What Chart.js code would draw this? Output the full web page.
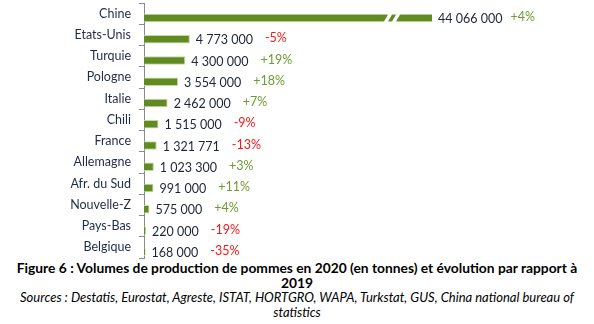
<!DOCTYPE html>
<html>
<head>
<meta charset="utf-8">
<script src="https://cdn.jsdelivr.net/npm/chart.js@4/dist/chart.umd.min.js"></script>
<style>
  body { margin: 0; background: #fff; }
  #wrap { position: relative; width: 594px; height: 260px; }
  #caption { width: 594px; text-align: center; color: #000; font-family: Lato, sans-serif; }
  #caption .title { font-weight: bold; font-size: 13.8px; line-height: 15px; }
  #caption .src { font-style: italic; font-size: 13px; line-height: 14.5px; }
</style>
</head>
<body>
<div id="wrap"><canvas id="chart" width="594" height="260"></canvas></div>
<div id="caption">
  <div class="title">Figure 6&#8239;: Volumes de production de pommes en 2020 (en tonnes) et évolution par rapport à<br>2019</div>
  <div class="src">Sources&#8239;: Destatis, Eurostat, Agreste, ISTAT, HORTGRO, WAPA, Turkstat, GUS, China national bureau of<br>statistics</div>
</div>
<script>
// data
const countries = ['Chine', 'Etats-Unis', 'Turquie', 'Pologne', 'Italie', 'Chili', 'France',
  'Allemagne', 'Afr. du Sud', 'Nouvelle-Z', 'Pays-Bas', 'Belgique'];
const volumes = [44066000, 4773000, 4300000, 3554000, 2462000, 1515000, 1321771,
  1023300, 991000, 575000, 220000, 168000];
const changes = [4, -5, 19, 18, 7, -9, -13, 3, 11, 4, -19, -35];

// the axis is cut: everything past axisMax is hidden, break drawn at breakAt
const axisMax = 30000000;
const breakAt = 24900000;

const barColor = '#5f8b22';
const greenText = '#6f9b32';
const redText = '#ff1414';

function formatVolume(v) {
  return String(v).replace(/\B(?=(\d{3})+(?!\d))/g, ' ');
}
function formatChange(c) {
  return (c > 0 ? '+' : '') + c + '%';
}

// value + % labels, and the axis break on the big bar
const barLabels = {
  id: 'barLabels',
  afterDatasetsDraw(chart) {
    const ctx = chart.ctx;
    const meta = chart.getDatasetMeta(1);
    const xs = chart.scales.x;
    ctx.save();
    ctx.textBaseline = 'middle';
    ctx.font = '12.5px Lato';

    meta.data.forEach((bar, i) => {
      let end = Math.min(bar.x, xs.right);
      let txt = formatVolume(volumes[i]);
      let x = end + 6;
      ctx.fillStyle = '#1d2433';
      ctx.textAlign = 'left';
      ctx.fillText(txt, x, bar.y + 1);
      let w = ctx.measureText(txt).width;
      ctx.fillStyle = changes[i] >= 0 ? greenText : redText;
      ctx.fillText(formatChange(changes[i]), x + w + (volumes[i] > axisMax ? 8 : 12), bar.y - 1);

      if (volumes[i] > breakAt) {
        let bx = xs.getPixelForValue(breakAt);
        let top = bar.y - bar.height / 2 - 1;
        let bot = bar.y + bar.height / 2 + 1;
        ctx.fillStyle = '#fff';
        for (let k = 0; k < 2; k++) {
          let x0 = bx + k * 8;
          ctx.beginPath();
          ctx.moveTo(x0, bot);
          ctx.lineTo(x0 + 4, bot);
          ctx.lineTo(x0 + 10, top);
          ctx.lineTo(x0 + 6, top);
          ctx.closePath();
          ctx.fill();
        }
      }
    });
    ctx.restore();
  }
};

new Chart(document.getElementById('chart'), {
  type: 'bar',
  data: {
    labels: countries,
    datasets: [
      {
        // empty series, pushes the bars below the row centre like the original
        data: countries.map(() => null),
        backgroundColor: 'rgba(0,0,0,0)'
      },
      {
        data: volumes,
        backgroundColor: barColor,
        borderColor: '#c4d7a4',
        borderWidth: { top: 1, right: 1, bottom: 1, left: 0 },
        borderSkipped: false,
        clip: 0
      }
    ]
  },
  options: {
    indexAxis: 'y',
    responsive: false,
    animation: false,
    categoryPercentage: 0.82,
    barPercentage: 0.98,
    layout: { padding: { left: 0, right: 162, top: 3, bottom: 2 } },
    plugins: { legend: { display: false }, tooltip: { enabled: false } },
    scales: {
      x: { display: false, min: 0, max: axisMax },
      y: {
        afterFit(scale) {
          scale.width = 144;
          scale.paddingTop = 0;
          scale.paddingBottom = 0;
        },
        border: { display: true, color: '#8a8a8a', width: 1 },
        grid: { drawOnChartArea: false, drawTicks: true, tickLength: 5, color: '#8a8a8a', offset: true },
        ticks: { padding: 8, color: '#1f2c48', font: { family: 'Lato', size: 12.5 } }
      }
    }
  },
  plugins: [barLabels]
});
</script>
</body>
</html>
